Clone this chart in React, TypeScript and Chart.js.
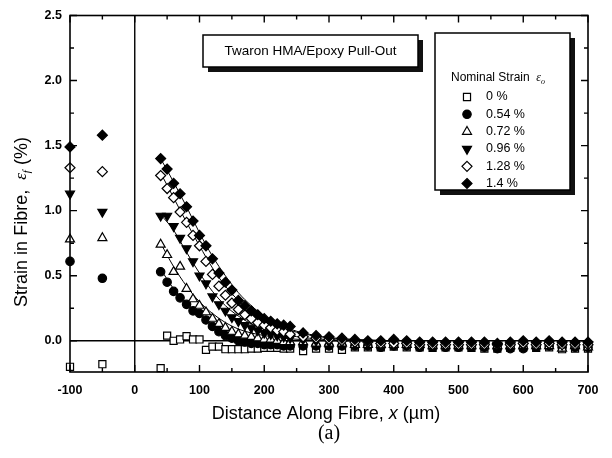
import React, { useEffect, useRef } from 'react';
import { Chart, registerables } from 'chart.js';

Chart.register(...registerables);

// ---------- data ----------
const X_END = [-100, -50];
const X_PROFILE = [40, 50, 60, 70, 80, 90, 100, 110, 120, 130, 140, 150, 160, 170, 180, 190, 200, 210, 220, 230, 240,
  260, 280, 300, 320, 340, 360, 380, 400, 420, 440, 460, 480, 500, 520, 540, 560, 580, 600, 620, 640, 660, 680, 700];

const SERIES_LABELS = ['0 %', '0.54 %', '0.72 %', '0.96 %', '1.28 %', '1.4 %'];

const END_000 = [-0.2, -0.18];
const END_054 = [0.61, 0.48];
const END_072 = [0.78, 0.79];
const END_096 = [1.13, 0.99];
const END_128 = [1.33, 1.30];
const END_140 = [1.49, 1.58];

const PROFILE_000 = [-0.21, 0.04, 0.0, 0.01, 0.035, 0.01, 0.01, -0.07, -0.045, -0.045, -0.065, -0.065, -0.065, -0.065, -0.06, -0.06, -0.055, -0.055, -0.055, -0.06, -0.06,
  -0.08, -0.06, -0.06, -0.07, -0.05, -0.05, -0.05, -0.045, -0.05, -0.05, -0.055, -0.05, -0.05, -0.055, -0.06, -0.06, -0.055, -0.05, -0.055, -0.05, -0.065, -0.06, -0.06];
const PROFILE_054 = [0.53, 0.45, 0.38, 0.33, 0.28, 0.23, 0.21, 0.16, 0.11, 0.07, 0.04, 0.02, 0.0, -0.01, -0.02, -0.02, -0.03, -0.03, -0.03, -0.04, -0.04,
  -0.04, -0.04, -0.04, -0.04, -0.04, -0.04, -0.05, -0.04, -0.04, -0.05, -0.05, -0.05, -0.05, -0.05, -0.05, -0.06, -0.06, -0.06, -0.05, -0.04, -0.05, -0.05, -0.05];
const PROFILE_072 = [0.74, 0.66, 0.53, 0.57, 0.40, 0.32, 0.27, 0.22, 0.17, 0.13, 0.10, 0.07, 0.05, 0.04, 0.03, 0.02, 0.01, 0.01, 0.0, -0.01, -0.01,
  -0.01, -0.02, -0.02, -0.02, -0.03, -0.03, -0.03, -0.03, -0.03, -0.03, -0.04, -0.04, -0.04, -0.04, -0.04, -0.04, -0.04, -0.04, -0.04, -0.04, -0.06, -0.04, -0.05];
const PROFILE_096 = [0.96, 0.96, 0.88, 0.79, 0.71, 0.61, 0.50, 0.44, 0.34, 0.28, 0.23, 0.18, 0.15, 0.12, 0.10, 0.08, 0.06, 0.05, 0.04, 0.03, 0.02,
  0.01, 0.0, -0.01, -0.01, -0.02, -0.02, -0.02, -0.02, -0.03, -0.03, -0.03, -0.03, -0.03, -0.03, -0.04, -0.03, -0.04, -0.04, -0.03, -0.03, -0.03, -0.03, -0.03];
const PROFILE_128 = [1.27, 1.17, 1.10, 0.99, 0.91, 0.81, 0.73, 0.61, 0.51, 0.42, 0.35, 0.29, 0.24, 0.20, 0.17, 0.14, 0.12, 0.10, 0.08, 0.07, 0.05,
  0.03, 0.02, 0.01, 0.0, -0.01, -0.01, -0.02, -0.02, -0.02, -0.03, -0.03, -0.03, -0.03, -0.03, -0.03, -0.03, -0.03, -0.02, -0.03, -0.02, -0.03, -0.03, -0.03];
const PROFILE_140 = [1.40, 1.32, 1.21, 1.13, 1.03, 0.92, 0.81, 0.73, 0.63, 0.52, 0.45, 0.39, 0.31, 0.27, 0.23, 0.20, 0.17, 0.15, 0.13, 0.12, 0.11,
  0.06, 0.04, 0.03, 0.02, 0.01, 0.0, 0.0, 0.01, 0.0, -0.01, -0.01, -0.01, -0.01, -0.01, -0.01, -0.02, -0.01, 0.0, -0.01, 0.0, -0.01, -0.01, -0.01];

// fitted curves
const FIT_X = [40, 60, 80, 100, 120, 140, 160, 180, 200, 240, 280, 320, 360, 400];
const FIT_054 = [0.55, 0.40, 0.29, 0.20, 0.12, 0.07, 0.04, 0.02, 0.01, 0.0, 0.0, 0.0, 0.0, 0.0];
const FIT_072 = [0.75, 0.57, 0.42, 0.30, 0.21, 0.14, 0.09, 0.06, 0.04, 0.015, 0.005, 0.0, 0.0, 0.0];
const FIT_096 = [0.97, 0.85, 0.68, 0.52, 0.38, 0.27, 0.19, 0.13, 0.09, 0.04, 0.015, 0.005, 0.0, 0.0];
const FIT_128 = [1.29, 1.10, 0.91, 0.73, 0.56, 0.42, 0.31, 0.22, 0.16, 0.08, 0.035, 0.015, 0.005, 0.0];
const FIT_140 = [1.40, 1.22, 1.03, 0.83, 0.65, 0.50, 0.37, 0.27, 0.19, 0.09, 0.04, 0.015, 0.005, 0.0];

const X_MAJOR = [-100, 0, 100, 200, 300, 400, 500, 600, 700];
const X_MINOR = [-50, 50, 150, 250, 350, 450, 550, 650];
const Y_MAJOR = [0, 0.5, 1.0, 1.5, 2.0, 2.5];
const Y_MINOR = [0.25, 0.75, 1.25, 1.75, 2.25];

// ---------- styles ----------
const SANS = '"Liberation Sans", Arial, Helvetica, sans-serif';
const SERIF = '"Liberation Serif", "Times New Roman", serif';

type MarkerStyle = { style: string; radius: number; filled: boolean; rotation: number };
const MARKERS: MarkerStyle[] = [
  { style: 'rect', radius: 5, filled: false, rotation: 0 },
  { style: 'circle', radius: 4.2, filled: true, rotation: 0 },
  { style: 'triangle', radius: 5.2, filled: false, rotation: 0 },
  { style: 'triangle', radius: 5.2, filled: true, rotation: 180 },
  { style: 'rectRot', radius: 5, filled: false, rotation: 0 },
  { style: 'rectRot', radius: 5, filled: true, rotation: 0 },
];

const ENDS = [END_000, END_054, END_072, END_096, END_128, END_140];
const PROFILES = [PROFILE_000, PROFILE_054, PROFILE_072, PROFILE_096, PROFILE_128, PROFILE_140];
const FITS = [FIT_054, FIT_072, FIT_096, FIT_128, FIT_140];

function drawMarker(ctx: CanvasRenderingContext2D, m: MarkerStyle, x: number, y: number) {
  const r = m.radius;
  ctx.beginPath();
  if (m.style === 'rect') {
    const s = Math.SQRT1_2 * r;
    ctx.rect(x - s, y - s, 2 * s, 2 * s);
  } else if (m.style === 'circle') {
    ctx.arc(x, y, r, 0, Math.PI * 2);
  } else if (m.style === 'triangle') {
    let rad = (m.rotation * Math.PI) / 180;
    ctx.moveTo(x + Math.sin(rad) * r, y - Math.cos(rad) * r);
    rad += (2 * Math.PI) / 3;
    ctx.lineTo(x + Math.sin(rad) * r, y - Math.cos(rad) * r);
    rad += (2 * Math.PI) / 3;
    ctx.lineTo(x + Math.sin(rad) * r, y - Math.cos(rad) * r);
    ctx.closePath();
  } else if (m.style === 'rectRot') {
    ctx.moveTo(x, y - r);
    ctx.lineTo(x + r, y);
    ctx.lineTo(x, y + r);
    ctx.lineTo(x - r, y);
    ctx.closePath();
  }
  ctx.fillStyle = m.filled ? '#000' : '#fff';
  ctx.fill();
  ctx.lineWidth = 1.2;
  ctx.strokeStyle = '#000';
  ctx.stroke();
}

type Part = { text: string; font: string; dy?: number };
function drawParts(ctx: CanvasRenderingContext2D, parts: Part[], cx: number, cy: number, align: 'center' | 'left') {
  let total = 0;
  parts.forEach((p) => { ctx.font = p.font; total += ctx.measureText(p.text).width; });
  let x = align === 'center' ? cx - total / 2 : cx;
  ctx.textAlign = 'left';
  ctx.textBaseline = 'middle';
  ctx.fillStyle = '#000';
  parts.forEach((p) => {
    ctx.font = p.font;
    ctx.fillText(p.text, x, cy + (p.dy || 0));
    x += ctx.measureText(p.text).width;
  });
}

function shadowBox(ctx: CanvasRenderingContext2D, x: number, y: number, w: number, h: number) {
  ctx.fillStyle = '#111';
  ctx.fillRect(x + 5, y + 5, w, h);
  ctx.fillStyle = '#fff';
  ctx.fillRect(x, y, w, h);
  ctx.lineWidth = 1.5;
  ctx.strokeStyle = '#000';
  ctx.strokeRect(x, y, w, h);
}

const decorPlugin = {
  id: 'decor',
  beforeDatasetsDraw(chart: any) {
    const { ctx, chartArea: a, scales } = chart;
    const x0 = scales.x.getPixelForValue(0);
    const y0 = scales.y.getPixelForValue(0);
    ctx.save();
    ctx.strokeStyle = '#000';
    ctx.lineWidth = 1.4;
    ctx.beginPath();
    ctx.moveTo(a.left, y0); ctx.lineTo(a.right, y0);
    ctx.moveTo(x0, a.top); ctx.lineTo(x0, a.bottom);
    ctx.stroke();
    ctx.restore();
  },
  afterDatasetsDraw(chart: any) {
    const { ctx, chartArea: a, scales } = chart;
    const sx = scales.x, sy = scales.y;
    ctx.save();
    // frame
    ctx.strokeStyle = '#000';
    ctx.lineWidth = 1.6;
    ctx.strokeRect(a.left, a.top, a.right - a.left, a.bottom - a.top);
    // ticks inward
    ctx.lineWidth = 1.4;
    ctx.beginPath();
    const tickX = (v: number, len: number) => {
      const p = sx.getPixelForValue(v);
      ctx.moveTo(p, a.bottom); ctx.lineTo(p, a.bottom - len);
      ctx.moveTo(p, a.top); ctx.lineTo(p, a.top + len);
    };
    const tickY = (v: number, len: number) => {
      const p = sy.getPixelForValue(v);
      ctx.moveTo(a.left, p); ctx.lineTo(a.left + len, p);
      ctx.moveTo(a.right, p); ctx.lineTo(a.right - len, p);
    };
    X_MAJOR.forEach((v) => tickX(v, 7));
    X_MINOR.forEach((v) => tickX(v, 4));
    Y_MAJOR.forEach((v) => tickY(v, 7));
    Y_MINOR.forEach((v) => tickY(v, 4));
    ctx.stroke();

    // title box
    shadowBox(ctx, 203, 35, 215, 32);
    drawParts(ctx, [{ text: 'Twaron HMA/Epoxy Pull-Out', font: `13.5px ${SANS}` }], 310.5, 51.5, 'center');

    // legend box
    shadowBox(ctx, 435, 33, 135, 157);
    drawParts(ctx, [
      { text: 'Nominal Strain  ', font: `12px ${SANS}` },
      { text: 'ε', font: `italic 12px ${SERIF}` },
      { text: 'o', font: `italic 8px ${SERIF}`, dy: 4 },
    ], 451, 78, 'left');
    const rows = [97, 114.3, 131.7, 149, 166.3, 183.5];
    SERIES_LABELS.forEach((lab, i) => {
      drawMarker(ctx, MARKERS[i], 467, rows[i]);
      drawParts(ctx, [{ text: lab, font: `12.5px ${SANS}` }], 486, rows[i], 'left');
    });
    ctx.restore();
  },
  afterDraw(chart: any) {
    const { ctx, chartArea: a } = chart;
    ctx.save();
    const cx = (a.left + a.right) / 2;
    // x title
    drawParts(ctx, [
      { text: 'Distance Along Fibre, ', font: `18px ${SANS}` },
      { text: 'x', font: `italic 18px ${SANS}` },
      { text: ' (µm)', font: `18px ${SANS}` },
    ], cx - 3, 414, 'center');
    // (a)
    drawParts(ctx, [{ text: '(a)', font: `20px ${SERIF}` }], cx, 434, 'center');
    // y title
    ctx.translate(22, 222);
    ctx.rotate(-Math.PI / 2);
    drawParts(ctx, [
      { text: 'Strain in Fibre,  ', font: `18px ${SANS}` },
      { text: 'ε', font: `italic 17px ${SERIF}` },
      { text: 'f', font: `italic 11px ${SERIF}`, dy: 5 },
      { text: ' (%)', font: `18px ${SANS}` },
    ], 0, 0, 'center');
    ctx.restore();
  },
};

export default function App() {
  const ref = useRef<HTMLCanvasElement | null>(null);

  useEffect(() => {
    if (!ref.current) return;
    const pointSets: any[] = MARKERS.map((m, i) => ({
      label: SERIES_LABELS[i],
      data: [...X_END.map((x, j) => ({ x, y: ENDS[i][j] })), ...X_PROFILE.map((x, j) => ({ x, y: PROFILES[i][j] }))],
      showLine: false,
      pointStyle: m.style,
      pointRadius: m.radius,
      pointRotation: m.rotation,
      pointBackgroundColor: m.filled ? '#000' : '#fff',
      pointBorderColor: '#000',
      pointBorderWidth: 1.2,
      clip: false,
      order: 5 - i,
    }));
    const fitSets: any[] = FITS.map((f) => ({
      label: 'fit',
      data: FIT_X.map((x, j) => ({ x, y: f[j] })),
      showLine: true,
      borderColor: '#000',
      borderWidth: 1,
      pointRadius: 0,
      cubicInterpolationMode: 'monotone',
      fill: false,
      order: 20,
    }));

    const tickFont = { family: SANS, size: 12.5, weight: 'bold' };
    const chart = new Chart(ref.current, {
      type: 'scatter',
      data: { datasets: [...pointSets, ...fitSets] },
      options: {
        animation: false,
        responsive: false,
        devicePixelRatio: 1,
        layout: { padding: { left: 0, top: 15, right: 24, bottom: 0 } },
        plugins: { legend: { display: false }, tooltip: { enabled: false } },
        scales: {
          x: {
            type: 'linear',
            min: -100,
            max: 700,
            afterBuildTicks: (s: any) => { s.ticks = X_MAJOR.map((v) => ({ value: v })); },
            afterFit: (s: any) => { s.height = 86; },
            grid: { display: false, drawTicks: false },
            border: { display: false },
            ticks: { color: '#000', font: tickFont, padding: 11, maxRotation: 0, autoSkip: false, callback: (v: any) => String(v) },
          },
          y: {
            type: 'linear',
            min: -0.24,
            max: 2.5,
            afterBuildTicks: (s: any) => { s.ticks = Y_MAJOR.map((v) => ({ value: v })); },
            afterFit: (s: any) => { s.width = 70; },
            grid: { display: false, drawTicks: false },
            border: { display: false },
            ticks: { color: '#000', font: tickFont, padding: 8, autoSkip: false, callback: (v: any) => Number(v).toFixed(1) },
          },
        },
      },
      plugins: [decorPlugin],
    } as any);
    return () => chart.destroy();
  }, []);

  return (
    <div style={{ position: 'fixed', left: 0, top: 0, width: 612, height: 458, background: '#fff' }}>
      <canvas ref={ref} width={612} height={458} />
    </div>
  );
}
